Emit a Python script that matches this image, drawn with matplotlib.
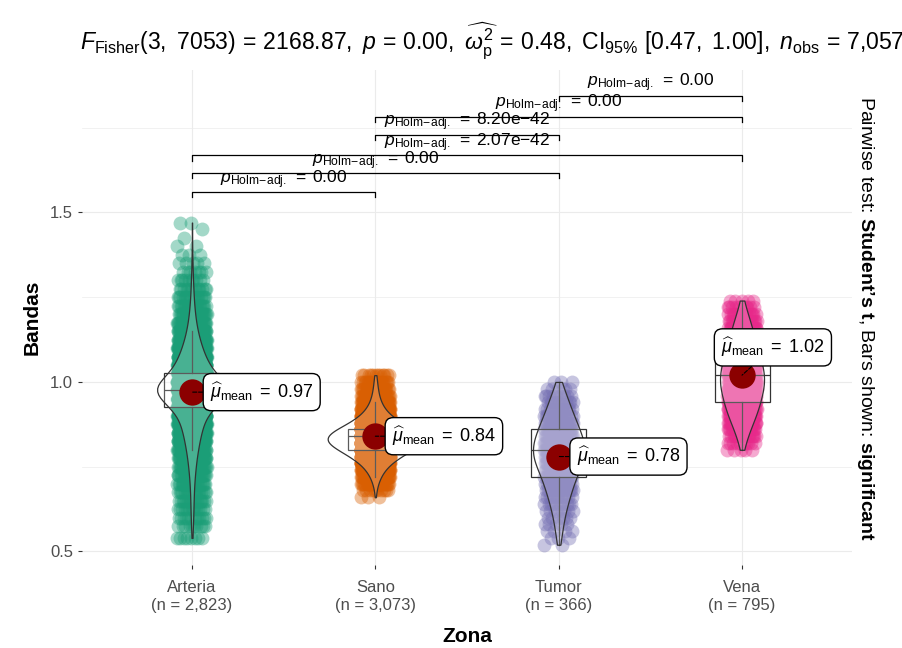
import numpy as np
import matplotlib
matplotlib.use("Agg")
from matplotlib import pyplot as plt
from matplotlib.ticker import MultipleLocator, FormatStrFormatter

plt.rcParams['font.family'] = ['Liberation Sans', 'DejaVu Sans']
plt.rcParams['mathtext.fontset'] = 'custom'
plt.rcParams['mathtext.rm'] = 'Liberation Sans'
plt.rcParams['mathtext.it'] = 'Liberation Sans:italic'
plt.rcParams['mathtext.bf'] = 'Liberation Sans:bold'

zones = ["Arteria", "Sano", "Tumor", "Vena"]
n_obs = [2823, 3073, 366, 795]
means = [0.97, 0.84, 0.78, 1.02]
colors = ["#1B9E77", "#D95F02", "#7570B3", "#E7298A"]

arteria_vals = [0.54, 0.575, 0.60, 0.625, 0.65, 0.675, 0.70, 0.725, 0.75, 0.775,
                0.80, 0.825, 0.85, 0.875, 0.90, 0.925, 0.95, 0.975, 1.00, 1.025,
                1.05, 1.075, 1.10, 1.125, 1.15, 1.175, 1.20, 1.225, 1.25, 1.275,
                1.30, 1.325, 1.35, 1.375, 1.40, 1.425, 1.45, 1.47]
arteria_counts = [8, 10, 12, 14, 16, 18, 22, 28, 36, 45,
                  58, 72, 90, 110, 140, 211, 310, 390, 330, 220,
                  170, 130, 100, 75, 55, 40, 30, 22, 17, 13,
                  10, 7, 5, 3, 2, 1, 1, 2]

sano_vals = [0.66, 0.68, 0.70, 0.72, 0.74, 0.76, 0.78, 0.80, 0.82, 0.84,
             0.86, 0.88, 0.90, 0.92, 0.94, 0.96, 0.98, 1.00, 1.02]
sano_counts = [3, 10, 25, 50, 90, 150, 250, 380, 520, 560,
               400, 250, 150, 90, 55, 35, 25, 18, 12]

tumor_vals = [0.52, 0.54, 0.56, 0.58, 0.60, 0.62, 0.64, 0.66, 0.68, 0.70,
              0.72, 0.74, 0.76, 0.78, 0.80, 0.82, 0.84, 0.86, 0.88, 0.90,
              0.92, 0.94, 0.96, 0.98, 1.00]
tumor_counts = [2, 3, 4, 5, 6, 8, 10, 12, 14, 17,
                19, 22, 27, 29, 30, 29, 26, 23, 20, 17,
                14, 11, 9, 6, 3]

vena_vals = [0.80, 0.82, 0.84, 0.86, 0.88, 0.90, 0.92, 0.94, 0.96, 0.98,
             1.00, 1.02, 1.04, 1.06, 1.08, 1.10, 1.12, 1.14, 1.16, 1.18,
             1.20, 1.22, 1.24]
vena_counts = [5, 10, 15, 22, 30, 38, 44, 49, 53, 59,
               61, 61, 58, 52, 47, 42, 37, 32, 27, 22,
               16, 10, 5]

# pairwise comparisons (Holm-adjusted p)
pairs = [(0, 1), (0, 2), (0, 3), (1, 2), (1, 3), (2, 3)]
pair_p = ["0.00", "0.00", "2.07e{-}42", "8.20e{-}42", "0.00", "0.00"]
bracket_y = [1.559, 1.615, 1.668, 1.729, 1.782, 1.844]

groups = [np.repeat(arteria_vals, arteria_counts),
          np.repeat(sano_vals, sano_counts),
          np.repeat(tumor_vals, tumor_counts),
          np.repeat(vena_vals, vena_counts)]
pos = np.arange(1, len(zones) + 1)

fig = plt.figure(figsize=(9.02, 6.48), dpi=100)
ax = fig.add_axes([0.0909, 0.128, 0.8537, 0.764])

# jittered points
for i, g in enumerate(groups):
    k = np.arange(len(g))
    jit = ((k * 0.6180339887) % 1 - 0.5) * 0.16
    ax.scatter(pos[i] + jit, g, s=100, color=colors[i], alpha=0.4, lw=0, zorder=1)

# boxplots
ax.boxplot(groups, positions=pos, widths=0.3, showfliers=False, showcaps=False,
           patch_artist=True, manage_ticks=False,
           boxprops=dict(facecolor=(1, 1, 1, 0.2), edgecolor='#333333', lw=0.9),
           medianprops=dict(color='#333333', lw=0.9),
           whiskerprops=dict(color='#333333', lw=0.9), zorder=3)

# violins (one call per group so each gets its own bandwidth)
v_widths = [0.38, 0.52, 0.28, 0.24]
v_bw = [0.2, 0.4, 0.3, 0.3]
for i, g in enumerate(groups):
    vp = ax.violinplot([g], positions=[pos[i]], widths=v_widths[i],
                       showextrema=False, bw_method=v_bw[i])
    for body in vp['bodies']:
        body.set_facecolor((1, 1, 1, 0.2))
        body.set_edgecolor('#333333')
        body.set_linewidth(0.9)
        body.set_alpha(None)
        body.set_zorder(4)

# means + labels
ax.scatter(pos, means, s=360, color='#8B0000', zorder=5, lw=0)
offsets = [(13, 0), (12, 0), (13, 0), (-15, 20)]
for i, m in enumerate(means):
    ax.annotate(r"$\widehat{\mu}_{\mathrm{mean}}\;=\;%.2f$" % m, xy=(pos[i], m),
                xytext=offsets[i], textcoords='offset points', ha='left', va='center',
                fontsize=13, zorder=6,
                bbox=dict(boxstyle='round,pad=0.38,rounding_size=0.45', fc='white', ec='black', lw=1),
                arrowprops=dict(arrowstyle='-', ls='--', lw=0.8, color='black',
                                shrinkA=0, shrinkB=0))

# significance brackets
tick = 0.015
for (a, b), p, y in zip(pairs, pair_p, bracket_y):
    ax.plot([pos[a], pos[a], pos[b], pos[b]], [y - tick, y, y, y - tick],
            color='black', lw=0.9, zorder=6)
    ax.text((pos[a] + pos[b]) / 2, y + 0.027,
            r"$\mathit{p}_{\mathrm{Holm\!-\!adj.}}\;=\;\mathrm{%s}$" % p,
            ha='center', va='baseline', fontsize=12.5, zorder=7)

ax.set_xlim(0.4, 4.6)
ax.set_ylim(0.46, 1.92)
ax.set_xticks(pos)
ax.set_xticklabels([f"{z}\n(n = {n:,})" for z, n in zip(zones, n_obs)])
ax.yaxis.set_major_locator(MultipleLocator(0.5))
ax.yaxis.set_minor_locator(MultipleLocator(0.25))
ax.yaxis.set_major_formatter(FormatStrFormatter('%.1f'))
ax.grid(True, which='major', color='#EBEBEB', lw=0.8, zorder=0)
ax.grid(True, which='minor', axis='y', color='#EBEBEB', lw=0.5, zorder=0)
ax.set_axisbelow(True)
for s in ax.spines.values():
    s.set_visible(False)
ax.tick_params(which='major', length=3, width=0.8, color='#333333',
               labelcolor='#4D4D4D', labelsize=12)
ax.tick_params(axis='x', pad=8)
ax.tick_params(which='minor', length=0)

ax.set_xlabel("Zona", fontsize=15, fontweight='bold', labelpad=10)
ax.set_ylabel("Bandas", fontsize=15, fontweight='bold', labelpad=6)

title = (r"$\mathit{F}_{\mathrm{Fisher}}(3,\ 7053)\,=\,2168.87,\ \mathit{p}\,=\,0.00,\ "
         r"\widehat{\omega_{\mathrm{p}}^{2}}\,=\,0.48,\ \mathrm{CI}_{95\%}\ [0.47,\ 1.00],\ "
         r"\mathit{n}_{\mathrm{obs}}\,=\,7{,}057$")
fig.text(0.0887, 0.938, title, fontsize=16.6, ha='left', va='center')

fig.text(0.959, 0.508,
         r"Pairwise test: $\mathbf{Student’s\ t}$, Bars shown: $\mathbf{significant}$",
         rotation=270, ha='center', va='center', fontsize=14)

fig.savefig("out.png", dpi=100)
